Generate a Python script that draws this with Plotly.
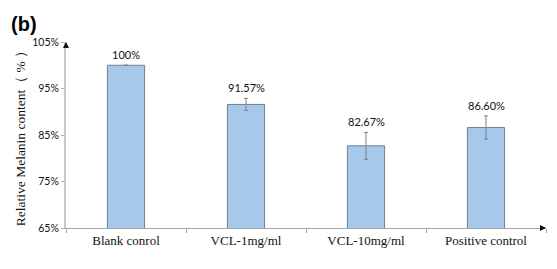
import plotly.graph_objects as go

categories = ["Blank conrol", "VCL-1mg/ml", "VCL-10mg/ml", "Positive control"]
values = [100.0, 91.57, 82.67, 86.60]
errors = [None, 1.3, 2.9, 2.5]
labels = ["100%", "91.57%", "82.67%", "86.60%"]
y_ticks = [65, 75, 85, 95, 105]
y_ticklabels = ["65%", "75%", "85%", "95%", "105%"]

fig = go.Figure()
fig.add_trace(go.Bar(
    x=categories, y=values, width=0.31,
    marker=dict(color="#a6c8ea", line=dict(color="#6f7f92", width=1)),
    error_y=dict(type="data", array=errors, visible=True, color="#808080",
                 thickness=1, width=2),
    showlegend=False,
))

for c, v, e, t in zip(categories, values, errors, labels):
    fig.add_annotation(x=c, y=v + (e or 0), text=t, showarrow=False,
                       yanchor="bottom", yshift=2,
                       font=dict(family="Lato", size=11, color="#111111"))

# axis arrows
fig.add_annotation(xref="paper", yref="paper", x=0, y=1.0, ax=0, ay=7,
                   showarrow=True, arrowhead=2,
                   arrowsize=0.8, arrowwidth=1.5, arrowcolor="#111111", text="")
fig.add_annotation(xref="paper", yref="paper", x=1.0, y=0, ax=-7, ay=0,
                   showarrow=True, arrowhead=2,
                   arrowsize=0.8, arrowwidth=1.5, arrowcolor="#111111", text="")

fig.add_annotation(xref="paper", yref="paper", x=-0.118, y=1.165, xanchor="left",
                   yanchor="top", text="<b>(b)</b>", showarrow=False,
                   font=dict(family="Liberation Sans", size=20, color="#000000"))

fig.update_layout(
    width=549, height=261,
    margin=dict(l=58, r=11, t=34, b=41),
    paper_bgcolor="white", plot_bgcolor="white",
    bargap=0.69,
    xaxis=dict(type="category", range=[-0.5, 3.5], showline=True, automargin=False,
               linecolor="#a6a6a6", linewidth=1.2, ticks="outside",
               tickson="boundaries", ticklen=4, tickcolor="#a6a6a6",
               tickfont=dict(family="Liberation Serif", size=13, color="#111111"),
               showgrid=False, zeroline=False),
    yaxis=dict(range=[65, 105], tickvals=y_ticks, ticktext=y_ticklabels,
               showline=True, linecolor="#c8c8c8", linewidth=2, automargin=False,
               ticks="outside", ticklen=3, tickcolor="#b0b0b0",
               tickfont=dict(family="Lato", size=10.5, color="#111111"),
               showgrid=False, zeroline=False,
               title=dict(text="Relative Melanin content（ % ）", standoff=3,
                          font=dict(family="Liberation Serif", size=13.5,
                                    color="#111111"))),
)

fig.write_html("out.html")
